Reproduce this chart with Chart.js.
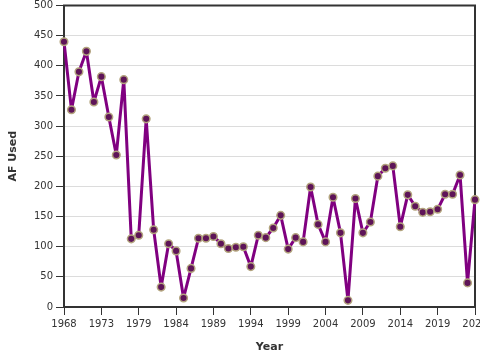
<!DOCTYPE html>
<html>
<head>
<meta charset="utf-8">
<script src="https://cdn.jsdelivr.net/npm/chart.js@4"></script>
<style>
html,body{margin:0;padding:0;overflow:hidden;background:#fff;width:480px;height:360px;}
#wrap{width:500px;height:360px;}
</style>
</head>
<body>
<div id="wrap"><canvas id="c" width="500" height="360"></canvas></div>
<script>
const years = [];
for (let y = 1968; y <= 2023; y++) years.push(y);
const afUsed = [
  440, 327, 390, 424, 340, 382, 315, 252, 377, 113,
  119, 312, 128, 33, 105, 93, 15, 64, 114, 114,
  117, 105, 97, 99, 100, 67, 119, 115, 131, 152,
  96, 115, 108, 199, 137, 108, 182, 123, 11, 180,
  123, 141, 217, 230, 234, 133, 186, 167, 157, 158,
  162, 187, 187, 219, 40, 178
];
const tickYears = [1968, 1973, 1978, 1983, 1988, 1993, 1998, 2003, 2008, 2013, 2018, 2023];
const tickLabels = ['1968','1973','1979','1984','1989','1994','1999','2004','2009','2014','2019','2024'];
const yTicks = [0,50,100,150,200,250,300,350,400,450,500];

const frame = {
  id: 'frame',
  beforeDatasetsDraw(chart) {
    const {ctx, chartArea: a} = chart;
    ctx.save();
    ctx.strokeStyle = '#333';
    ctx.lineWidth = 2;
    ctx.strokeRect(a.left, a.top, a.right - a.left, a.bottom - a.top);
    ctx.restore();
  }
};

new Chart(document.getElementById('c'), {
  type: 'line',
  data: {
    datasets: [{
      data: years.map((y, i) => ({x: y, y: afUsed[i]})),
      borderColor: '#800080',
      borderWidth: 3,
      borderJoinStyle: 'round',
      pointRadius: 3.8,
      pointBorderWidth: 1.5,
      pointBackgroundColor: '#5e1458',
      pointBorderColor: '#b3a47e',
      tension: 0,
      clip: false
    }]
  },
  options: {
    responsive: false,
    animation: false,
    layout: {padding: {left: 0, right: 25, top: 0, bottom: 0}},
    plugins: {legend: {display: false}, tooltip: {enabled: false}},
    scales: {
      x: {
        type: 'linear',
        min: 1968, max: 2023,
        afterBuildTicks(s) { s.ticks = tickYears.map(v => ({value: v})); },
        afterFit(s) { s.height = 53; },
        ticks: {
          autoSkip: false, maxRotation: 0, padding: 3,
          color: '#333',
          font: {family: 'DejaVu Sans', size: 10},
          callback: (v, i) => tickLabels[i]
        },
        grid: {display: true, drawOnChartArea: false, tickLength: 8, tickColor: '#333', tickWidth: 1},
        border: {display: false},
        title: {display: true, text: 'Year', color: '#333',
          font: {family: 'DejaVu Sans', size: 11, weight: 'bold'},
          padding: {top: 0, bottom: 6}}
      },
      y: {
        min: 0, max: 500,
        afterBuildTicks(s) { s.ticks = yTicks.map(v => ({value: v})); },
        afterFit(s) { s.width = 64; },
        ticks: {
          color: '#333', padding: 3,
          font: {family: 'DejaVu Sans', size: 10, lineHeight: 0.3}
        },
        grid: {color: '#dcdcdc', lineWidth: 1, tickLength: 8, tickColor: '#333'},
        border: {display: false},
        title: {display: true, text: 'AF Used', color: '#333',
          font: {family: 'DejaVu Sans', size: 11, weight: 'bold'},
          padding: {top: 7, bottom: 0}}
      }
    }
  },
  plugins: [frame]
});
</script>
</body>
</html>
